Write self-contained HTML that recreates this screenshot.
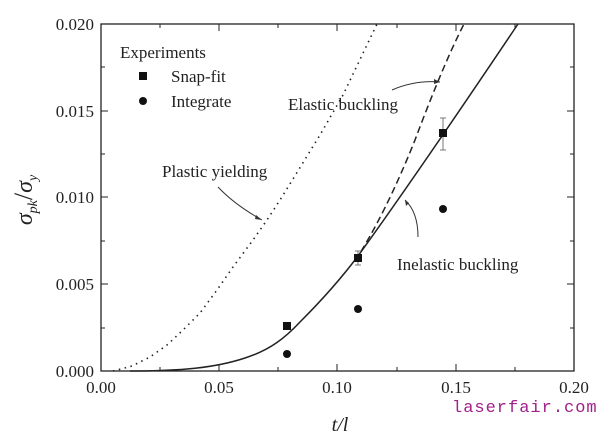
<!DOCTYPE html>
<html><head><style>body{margin:0;background:#fff}svg{display:block}</style></head><body>
<svg width="600" height="436" viewBox="0 0 600 436" xmlns="http://www.w3.org/2000/svg" font-family="Liberation Serif, serif" fill="#222">
<rect x="101" y="24" width="473" height="347" fill="none" stroke="#222" stroke-width="1.3"/>
<g stroke="#222" stroke-width="1">
<path d="M101 371v-7M160 371v-4M219 371v-7M278 371v-4M337 371v-7M397 371v-4M456 371v-7M515 371v-4M574 371v-7
M160 24v4M219 24v7M278 24v4M337 24v7M397 24v4M456 24v7M515 24v4"/>
<path d="M101 371h7M101 328h4M101 284h7M101 241h4M101 197h7M101 154h4M101 111h7M101 67h4M101 24h7
M574 328h-4M574 284h-7M574 241h-4M574 197h-7M574 154h-4M574 111h-7M574 67h-4"/>
</g>
<g font-size="17" text-anchor="end">
<text x="94" y="377">0.000</text><text x="94" y="290">0.005</text><text x="94" y="203">0.010</text><text x="94" y="117">0.015</text><text x="94" y="30">0.020</text>
</g>
<g font-size="17" text-anchor="middle">
<text x="101" y="393">0.00</text><text x="219" y="393">0.05</text><text x="337" y="393">0.10</text><text x="456" y="393">0.15</text><text x="574" y="393">0.20</text>
</g>
<text x="340" y="431" font-size="20" font-style="italic" text-anchor="middle">t/l</text>
<g transform="translate(32,200) rotate(-90)" font-size="24" font-style="italic" text-anchor="middle"><text>σ<tspan font-size="14" dy="5">pk</tspan><tspan dy="-5" font-size="26" font-style="normal">/</tspan><tspan>σ</tspan><tspan font-size="14" dy="5">y</tspan></text></g>
<polyline fill="none" stroke="#222" stroke-width="1.6" stroke-dasharray="1.5 4.5" points="113,371 121,369 132,366 150,357 167,345 182,331 200,313 217,290 233,267 253,240 267,220 280,200 293,179 320,135 343,95 377,24"/>
<path fill="none" stroke="#222" stroke-width="1.5" d="M130,371 C180,371 215,368 245,358 C270,350 285,338 300,322 C320,302 340,280 358,256 C395,205 440,140 518,24"/>
<path fill="none" stroke="#222" stroke-width="1.5" stroke-dasharray="7 4" d="M355,261 C375,230 395,190 415,140 C430,100 448,55 464,24"/>
<g stroke="#777" stroke-width="1"><path d="M358 251v14M355 251h6M355 265h6M443 118v32M440 118h6M440 150h6"/></g>
<g fill="#111"><rect x="283" y="322" width="8" height="8"/><rect x="354" y="254" width="8" height="8"/><rect x="439" y="129" width="8" height="8"/>
<circle cx="287" cy="354" r="4"/><circle cx="358" cy="309" r="4"/><circle cx="443" cy="209" r="4"/>
<rect x="139" y="72" width="8" height="8"/><circle cx="143" cy="101" r="4"/></g>
<g font-size="17"><text x="120" y="58">Experiments</text><text x="171" y="82">Snap-fit</text><text x="171" y="107">Integrate</text>
<text x="162" y="177">Plastic yielding</text><text x="288" y="110">Elastic buckling</text><text x="397" y="270">Inelastic buckling</text></g>
<g fill="none" stroke="#333" stroke-width="1"><path d="M218 187 Q235 205 262 220"/><path d="M392 90 Q415 80 440 82"/><path d="M418 237 Q418 212 405 200"/></g>
<g fill="#333"><path d="M262 220l-6-5 -1 4z"/><path d="M440 82l-6-3 0 5z"/><path d="M405 200l1 6 3-3z"/></g>
<text x="452" y="412" font-family="Liberation Mono, monospace" font-size="17" fill="#a0208a" letter-spacing="1">laserfair.com</text>
</svg>
</body></html>
